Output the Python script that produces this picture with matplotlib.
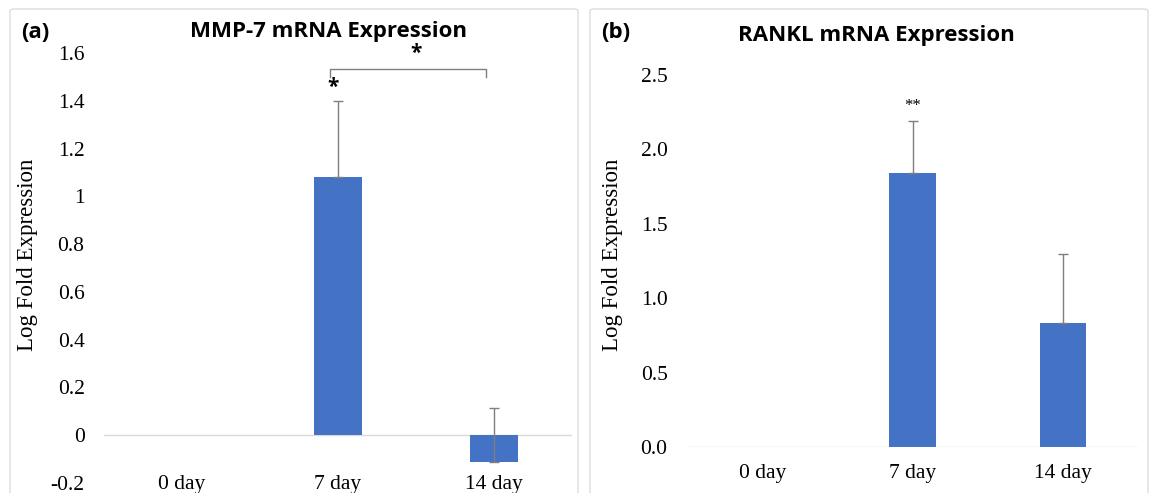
import numpy as np
import matplotlib.pyplot as plt
from matplotlib.patches import FancyBboxPatch

# data
days = ["0 day", "7 day", "14 day"]
mmp7 = [0.0, 1.08, -0.11]
mmp7_err = [0.0, 0.32, 0.225]
rankl = [0.0, 1.84, 0.83]
rankl_err = [0.0, 0.35, 0.47]

blue = "#4472C4"
grey = "#7f7f7f"
serif = "Liberation Serif"
sans = "Open Sans"

fig = plt.figure(figsize=(11.5, 4.93), dpi=100)

# panel frames (top edge 9 px below the figure top, bottom runs off the figure)
for x0, w in [(10, 568), (590, 558)]:
    box = FancyBboxPatch((x0 / 1150, -0.1), w / 1150, 1.1 - 9 / 493,
                         boxstyle="round,pad=0,rounding_size=0.004",
                         transform=fig.transFigure, fill=False,
                         edgecolor="#dcdcdc", lw=1.0, clip_on=False)
    fig.patches.append(box)

x = np.arange(len(days))


def draw(ax, vals, errs, ylim, yticks, ytl, pad_x):
    ax.bar(x, vals, width=0.31, color=blue, zorder=2)
    for xi, v, e in zip(x, vals, errs):
        if e > 0:
            ax.errorbar(xi, v, yerr=[[0], [e]], fmt="none", ecolor=grey,
                        elinewidth=1, capsize=3.5, capthick=1, zorder=3)
    ax.axhline(0, color="#d9d9d9", lw=1, zorder=1)
    ax.set_xlim(-0.5, 2.5)
    ax.set_ylim(*ylim)
    ax.set_yticks(yticks)
    ax.set_yticklabels(ytl, fontfamily=serif, fontsize=15.5)
    ax.set_xticks(x)
    ax.set_xticklabels(days, fontfamily=serif, fontsize=15.5)
    ax.tick_params(axis="y", length=0, pad=14)
    ax.tick_params(axis="x", length=0, pad=pad_x)
    for s in ax.spines.values():
        s.set_visible(False)
    ax.set_ylabel("Log Fold Expression", fontfamily=serif, fontsize=16.5)


# (a) MMP-7
ax1 = fig.add_axes([104 / 1150, 10 / 493, 468 / 1150, 430 / 493])
draw(ax1, mmp7, mmp7_err, (-0.2, 1.6),
     [-0.2, 0, 0.2, 0.4, 0.6, 0.8, 1, 1.2, 1.4, 1.6],
     ["-0.2", "0", "0.2", "0.4", "0.6", "0.8", "1", "1.2", "1.4", "1.6"], -6)
ax1.yaxis.set_label_coords(-0.141, 0.53)
ax1.text(1 - 0.03, mmp7[1] + mmp7_err[1] + 0.01, "*", ha="center", va="bottom",
         fontsize=15, fontweight="bold", fontfamily=sans)
ax1.plot([0.95, 0.95, 1.95, 1.95], [1.50, 1.535, 1.535, 1.50], color=grey, lw=1)
ax1.text(1.5, 1.555, "*", ha="center", va="bottom", fontsize=15,
         fontweight="bold", fontfamily=sans)
fig.text(21 / 1150, 1 - 33 / 493, "(a)", fontsize=16, fontweight="bold",
         fontfamily=sans, va="center")
fig.text(328 / 1150, 1 - 32 / 493, "MMP-7 mRNA Expression", fontsize=16,
         fontweight="bold", fontfamily=sans, ha="center", va="center")

# (b) RANKL
ax2 = fig.add_axes([687 / 1150, 46 / 493, 451 / 1150, 372 / 493])
draw(ax2, rankl, rankl_err, (0, 2.5), [0, 0.5, 1.0, 1.5, 2.0, 2.5],
     ["0.0", "0.5", "1.0", "1.5", "2.0", "2.5"], 12)
ax2.yaxis.set_label_coords(-0.142, 0.516)
ax2.text(1, rankl[1] + rankl_err[1] + 0.05, "**", ha="center", va="bottom",
         fontsize=12, fontfamily=serif)
fig.text(601 / 1150, 1 - 33 / 493, "(b)", fontsize=16, fontweight="bold",
         fontfamily=sans, va="center")
fig.text(876 / 1150, 1 - 35 / 493, "RANKL mRNA Expression", fontsize=16,
         fontweight="bold", fontfamily=sans, ha="center", va="center")

fig.savefig("out.png", dpi=100)
